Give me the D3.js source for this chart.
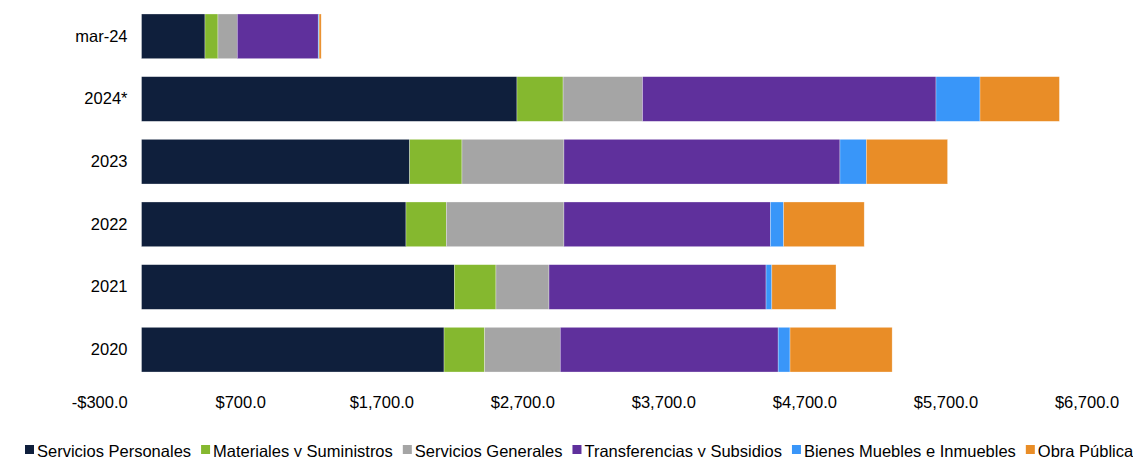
<!DOCTYPE html>
<html>
<head>
<meta charset="utf-8">
<script src="https://cdn.jsdelivr.net/npm/d3@7"></script>
<style>
  body { margin: 0; background: #fff; }
  svg text { font-family: "Liberation Sans", Arial, sans-serif; fill: #000; }
</style>
</head>
<body>
<figure id="bar" style="margin:0"></figure>
<script>
// categories, top to bottom
const periods = ["mar-24", "2024*", "2023", "2022", "2021", "2020"]

const seriesNames = [
  "Servicios Personales",
  "Materiales y Suministros",
  "Servicios Generales",
  "Transferencias y Subsidios",
  "Bienes Muebles e Inmuebles",
  "Obra Pública"
]

// values per series, same order as periods
const serviciosPersonales     = [450, 2662, 1901, 1875, 2218, 2145]
const materialesSuministros   = [92, 327, 371, 286, 295, 288]
const serviciosGenerales      = [137, 563, 723, 834, 376, 536]
const transferenciasSubsidios = [574, 2081, 1957, 1464, 1539, 1545]
const bienesMuebles           = [6, 312, 187, 94, 41, 84]
const obraPublica             = [15, 563, 576, 571, 455, 724]

const xTicks = [-300, 700, 1700, 2700, 3700, 4700, 5700, 6700]

const colors = ["#0f1f3c", "#85b82f", "#a5a5a5", "#5f309c", "#3996f9", "#e98d27"]

const width = 1133
const height = 457

const table = periods.map((p, i) => ({
  period: p,
  [seriesNames[0]]: serviciosPersonales[i],
  [seriesNames[1]]: materialesSuministros[i],
  [seriesNames[2]]: serviciosGenerales[i],
  [seriesNames[3]]: transferenciasSubsidios[i],
  [seriesNames[4]]: bienesMuebles[i],
  [seriesNames[5]]: obraPublica[i]
}))

const svg = d3.select("figure#bar")
  .append("svg")
  .attr("width", width)
  .attr("height", height)

const x = d3.scaleLinear()
  .domain([-300, 6700])
  .range([99.2, 1086.5])

const y = d3.scaleBand()
  .domain(periods)
  .range([5, 381])
  .paddingInner(0.287)
  .paddingOuter(0.1435)

const stacked = d3.stack().keys(seriesNames)(table)

const color = d3.scaleOrdinal().domain(seriesNames).range(colors)

svg.append("g")
  .selectAll("g")
  .data(stacked)
  .enter()
  .append("g")
  .attr("fill", d => color(d.key))
  .selectAll("rect")
  .data(d => d)
  .enter()
  .append("rect")
  .attr("x", d => x(d[0]))
  .attr("y", d => y(d.data.period))
  .attr("width", d => Math.max(0, x(d[1]) - x(d[0])))
  .attr("height", y.bandwidth())
  .attr("stroke", "#fff")
  .attr("stroke-width", 0.6)
  .attr("stroke-opacity", 0.5)

// category axis, labels only
const yAxis = svg.append("g")
  .attr("transform", "translate(141.5,0)")
  .call(d3.axisLeft(y).tickSize(0).tickPadding(14))
yAxis.select(".domain").remove()
yAxis.selectAll("text")
  .style("font-size", "16.5px")
  .style("font-family", "'Liberation Sans', Arial, sans-serif")

// value axis, labels only
const xAxis = svg.append("g")
  .attr("transform", "translate(0,390)")
  .call(d3.axisBottom(x)
    .tickValues(xTicks)
    .tickSize(0)
    .tickPadding(6)
    .tickFormat(d => (d < 0 ? "-$" : "$") + d3.format(",.1f")(Math.abs(d))))
xAxis.select(".domain").remove()
xAxis.selectAll("text")
  .style("font-size", "16.5px")
  .style("font-family", "'Liberation Sans', Arial, sans-serif")

// legend
const legend = svg.append("g").attr("transform", "translate(0,451)")
let lx = 25
seriesNames.forEach((name, i) => {
  const item = legend.append("g").attr("transform", "translate(" + lx + ",0)")
  item.append("rect")
    .attr("x", 0)
    .attr("y", -6)
    .attr("width", 9)
    .attr("height", 9)
    .attr("fill", colors[i])
  const t = item.append("text")
    .attr("x", 12)
    .attr("dy", "0.35em")
    .style("font-size", "16.5px")
    .text(name)
  lx += 12 + t.node().getComputedTextLength() + 10
})
</script>
</body>
</html>
